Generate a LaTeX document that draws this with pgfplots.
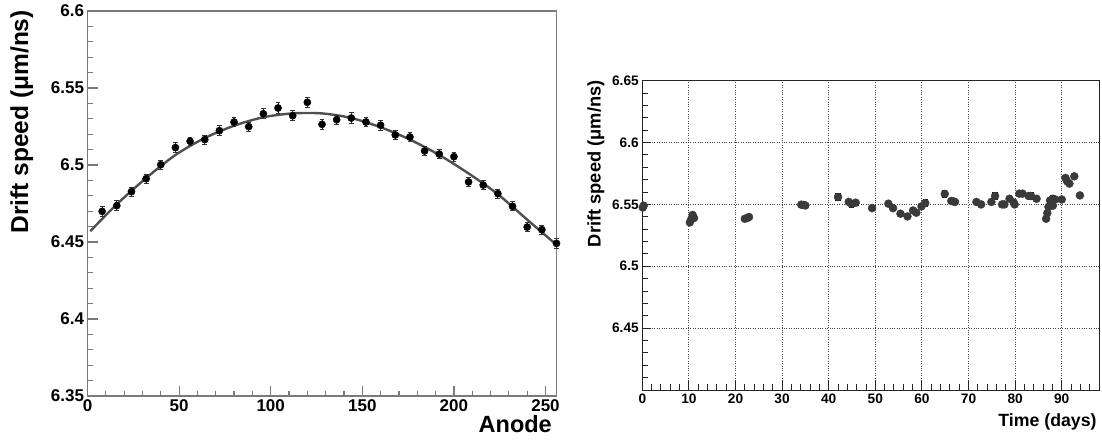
\documentclass[border=0pt]{standalone}
\usepackage{fontspec}
\setmainfont{Liberation Sans}
\usepackage{pgfplots}
\pgfplotsset{compat=1.18}
\definecolor{fitgray}{HTML}{505050}
\definecolor{ptgray}{HTML}{3A3A3A}
\definecolor{framegray}{HTML}{7A7A7A}

\pgfplotstableread{
x y e
8 6.4699 0.0032
16 6.4736 0.0032
24 6.4827 0.0030
32 6.4911 0.0030
40 6.5002 0.0030
48 6.5113 0.0032
56 6.5154 0.0028
64 6.5165 0.0030
72 6.5223 0.0032
80 6.5279 0.0030
88 6.5249 0.0028
96 6.5333 0.0032
104 6.5370 0.0035
112 6.5320 0.0032
120 6.5407 0.0032
128 6.5264 0.0032
136 6.5294 0.0028
144 6.5305 0.0035
152 6.5279 0.0030
160 6.5258 0.0032
168 6.5195 0.0032
176 6.5182 0.0032
184 6.5091 0.0030
192 6.5071 0.0028
200 6.5054 0.0028
208 6.4890 0.0030
216 6.4870 0.0030
224 6.4814 0.0030
232 6.4732 0.0030
240 6.4597 0.0028
248 6.4580 0.0030
256 6.4491 0.0035
}\anodedata

\pgfplotstableread{
x y
1.5 6.4570
16 6.4745
32 6.4915
48 6.5065
64 6.5175
80 6.5255
96 6.5310
112 6.5335
128 6.5335
144 6.5305
160 6.5245
176 6.5165
192 6.5065
208 6.4945
224 6.4810
240 6.4645
256 6.4482
}\fitdata

\pgfplotstableread{
x y e
0.1 6.5475 0.0010
0.3 6.5490 0.0010
10.2 6.5355 0.0015
10.5 6.5380 0.0010
10.8 6.5415 0.0010
11.1 6.5390 0.0010
22.0 6.5384 0.0010
22.5 6.5390 0.0010
22.9 6.5398 0.0010
34.1 6.5498 0.0008
34.6 6.5495 0.0008
35.0 6.5492 0.0008
42.0 6.5560 0.0030
44.3 6.5520 0.0010
44.9 6.5505 0.0030
45.8 6.5514 0.0010
49.3 6.5470 0.0010
52.8 6.5506 0.0010
53.8 6.5470 0.0015
55.4 6.5425 0.0010
56.9 6.5403 0.0015
58.1 6.5451 0.0015
58.8 6.5433 0.0010
59.9 6.5484 0.0010
60.7 6.5511 0.0030
64.9 6.5585 0.0025
66.3 6.5528 0.0010
66.7 6.5525 0.0010
67.1 6.5520 0.0010
71.7 6.5520 0.0010
72.7 6.5500 0.0020
74.9 6.5520 0.0010
75.7 6.5568 0.0030
77.2 6.5500 0.0010
77.7 6.5500 0.0010
78.8 6.5546 0.0020
79.7 6.5515 0.0010
79.9 6.5500 0.0020
80.9 6.5587 0.0020
81.6 6.5587 0.0020
82.9 6.5568 0.0020
83.4 6.5568 0.0030
84.6 6.5546 0.0010
86.65 6.5384 0.0010
86.9 6.5430 0.0010
87.15 6.5480 0.0010
87.5 6.5532 0.0020
88.1 6.5546 0.0030
88.1 6.5490 0.0020
88.6 6.5540 0.0010
90.0 6.5540 0.0020
90.8 6.5714 0.0020
91.15 6.5687 0.0010
91.65 6.5668 0.0010
92.7 6.5727 0.0010
93.9 6.5573 0.0010
}\timedata

\begin{document}
\begin{tikzpicture}[x=1pt,y=1pt]
\useasboundingbox (0,0) rectangle (1102,439);
% ---------------- left panel ----------------
\begin{axis}[
  at={(87.5pt,43pt)}, anchor=south west,
  scale only axis, width=469pt, height=385pt,
  clip=false,
  xmin=0, xmax=256, ymin=6.35, ymax=6.6,
  xtick={0,50,100,150,200,250},
  xticklabels={0,50,100,150,200,250},
  minor xtick={10,20,...,240},
  ytick={6.35,6.4,6.45,6.5,6.55,6.6},
  yticklabels={6.35,6.4,6.45,6.5,6.55,6.6},
  minor ytick={6.36,6.37,6.38,6.39,6.41,6.42,6.43,6.44,6.46,6.47,6.48,6.49,6.51,6.52,6.53,6.54,6.56,6.57,6.58,6.59},
  tick pos=left, tick align=inside,
  major tick length=10pt, minor tick length=5pt,
  axis line style={framegray, line width=1.3pt},
  tick style={framegray, line width=1.2pt},
  ticklabel style={font=\fontsize{17}{17}\selectfont\bfseries},
  xticklabel style={inner sep=3pt},
  every axis x label/.style={at={(axis description cs:0.9904,-0.0961)}, anchor=base east, inner sep=0pt, font=\fontsize{23.5}{28}\selectfont\bfseries},
  every axis y label/.style={at={(axis description cs:-0.165,1.0026)}, anchor=north east, rotate=90, inner sep=0pt, font=\fontsize{24.5}{29}\selectfont\bfseries},
  xlabel={Anode},
  ylabel={Drift speed (μm/ns)},
]
\addplot[fitgray, line width=2.4pt, smooth, tension=0.5, no marks] table[x=x,y=y] {\fitdata};
\addplot[only marks, mark=*, mark size=3.6pt, black,
  error bars/.cd, y dir=both, y explicit,
  error bar style={black!80, line width=0.9pt},
  error mark options={black!80, rotate=90, mark size=2.4pt, line width=0.9pt}]
  table[x=x,y=y,y error=e] {\anodedata};
\end{axis}
% ---------------- right panel ----------------
\begin{axis}[
  at={(642.3pt,49pt)}, anchor=south west,
  scale only axis, width=456.7pt, height=309.3pt,
  clip=false,
  xmin=0, xmax=98, ymin=6.4, ymax=6.65,
  xtick={0,10,20,30,40,50,60,70,80,90},
  xticklabels={0,10,20,30,40,50,60,70,80,90},
  minor xtick={2,4,...,96},
  ytick={6.45,6.5,6.55,6.6,6.65},
  yticklabels={6.45,6.5,6.55,6.6,6.65},
  minor ytick={6.41,6.42,6.43,6.44,6.46,6.47,6.48,6.49,6.51,6.52,6.53,6.54,6.56,6.57,6.58,6.59,6.61,6.62,6.63,6.64},
  tick pos=left, tick align=inside,
  major tick length=9pt, minor tick length=6pt,
  grid=major,
  major grid style={dotted, black!75, line width=0.9pt},
  axis line style={black!85, line width=1pt},
  tick style={black!85, line width=1pt},
  ticklabel style={font=\fontsize{13.7}{14}\selectfont\bfseries},
  every axis x label/.style={at={(axis description cs:0.995,-0.1196)}, anchor=base east, inner sep=0pt, font=\fontsize{17.7}{21}\selectfont\bfseries},
  every axis y label/.style={at={(axis description cs:-0.121,1.002)}, anchor=north east, rotate=90, inner sep=0pt, font=\fontsize{18.3}{22}\selectfont\bfseries},
  xlabel={Time (days)},
  ylabel={Drift speed (μm/ns)},
]
\addplot[only marks, mark=*, mark size=4pt, ptgray, mark options={fill=ptgray, draw=ptgray},
  error bars/.cd, y dir=both, y explicit,
  error bar style={black, line width=0.9pt},
  error mark options={black, rotate=90, mark size=2.6pt, line width=0.9pt}]
  table[x=x,y=y,y error=e] {\timedata};
\end{axis}
\end{tikzpicture}
\end{document}
